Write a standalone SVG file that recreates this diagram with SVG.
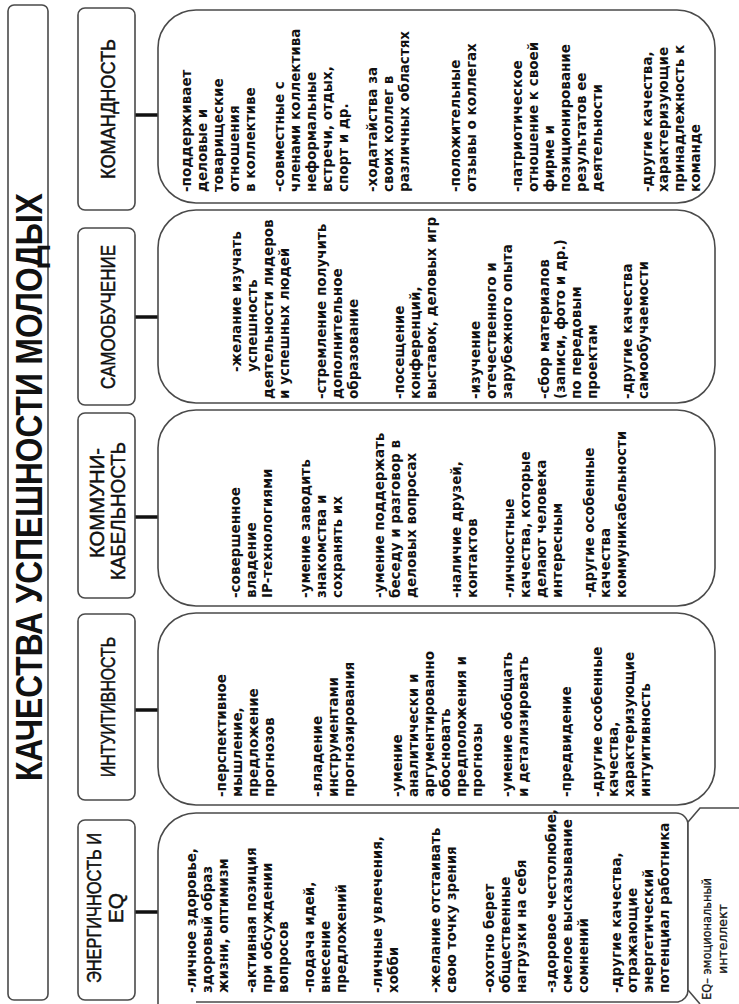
<svg xmlns="http://www.w3.org/2000/svg" width="739" height="1004" viewBox="0 0 739 1004">
<defs>
<style>
.box{fill:#fff;stroke:#4a4a4a;stroke-width:1.6}
.conn{stroke:#111;stroke-width:3.5;fill:none}
.title{font-family:"Liberation Sans",Arial,sans-serif;font-size:37px;font-weight:bold;fill:#111;text-anchor:middle}
.cat{font-family:"Liberation Sans",Arial,sans-serif;font-size:21px;fill:#111;stroke:#111;stroke-width:0.5;text-anchor:middle}
.item{font-family:"DejaVu Sans",Verdana,sans-serif;font-size:13.5px;font-weight:bold;fill:#111}
.note{font-family:"DejaVu Sans",Verdana,sans-serif;font-size:12.5px;fill:#111;stroke:#111;stroke-width:0.3;text-anchor:middle}
</style>
</defs>
<rect width="739" height="1004" fill="#fff"/>

<g id="title">
<rect class="box" x="8" y="5" width="40" height="995" rx="6"/>
<text class="title" transform="translate(42,487) rotate(-90)" textLength="588" lengthAdjust="spacingAndGlyphs">КАЧЕСТВА УСПЕШНОСТИ МОЛОДЫХ</text>
</g>

<g id="connectors">
<line class="conn" x1="135" y1="115" x2="158" y2="115"/>
<line class="conn" x1="135" y1="317" x2="158" y2="317"/>
<line class="conn" x1="135" y1="517" x2="158" y2="517"/>
<line class="conn" x1="135" y1="710" x2="158" y2="710"/>
<line class="conn" x1="135" y1="912" x2="158" y2="912"/>
</g>

<g id="cat-komandnost">
<rect class="box" x="78" y="8" width="57" height="202" rx="7"/>
<text class="cat" transform="translate(115,109) rotate(-90)" textLength="140" lengthAdjust="spacingAndGlyphs">КОМАНДНОСТЬ</text>
</g>
<g id="cat-samoobuchenie">
<rect class="box" x="78" y="228" width="57" height="177" rx="7"/>
<text class="cat" transform="translate(115,317) rotate(-90)" textLength="144" lengthAdjust="spacingAndGlyphs">САМООБУЧЕНИЕ</text>
</g>
<g id="cat-kommunikabelnost">
<rect class="box" x="78" y="413" width="57" height="185" rx="7"/>
<text class="cat" transform="translate(104,503) rotate(-90)" textLength="110" lengthAdjust="spacingAndGlyphs">КОММУНИ-</text>
<text class="cat" transform="translate(125,511) rotate(-90)" textLength="138" lengthAdjust="spacingAndGlyphs">КАБЕЛЬНОСТЬ</text>
</g>
<g id="cat-intuitivnost">
<rect class="box" x="78" y="614" width="57" height="186" rx="7"/>
<text class="cat" transform="translate(115,707) rotate(-90)" textLength="140" lengthAdjust="spacingAndGlyphs">ИНТУИТИВНОСТЬ</text>
</g>
<g id="cat-energichnost">
<rect class="box" x="78" y="820" width="57" height="180" rx="7"/>
<text class="cat" transform="translate(101,908) rotate(-90)" textLength="150" lengthAdjust="spacingAndGlyphs">ЭНЕРГИЧНОСТЬ И</text>
<text class="cat" transform="translate(123,908) rotate(-90)">EQ</text>
</g>

<g id="det-komandnost">
<rect class="box" x="158" y="10" width="557" height="193" rx="38"/>
<text class="item" transform="translate(191,192) rotate(-90)">
<tspan x="0" y="0">-поддерживает</tspan><tspan x="0" y="16">деловые и</tspan><tspan x="0" y="32">товарищеские</tspan><tspan x="0" y="48">отношения</tspan><tspan x="0" y="64">в коллективе</tspan>
<tspan x="0" y="93">-совместные с</tspan><tspan x="0" y="109">членами коллектива</tspan><tspan x="0" y="125">неформальные</tspan><tspan x="0" y="141">встречи, отдых,</tspan><tspan x="0" y="157">спорт и др.</tspan>
<tspan x="0" y="186">-ходатайства за</tspan><tspan x="0" y="202">своих коллег в</tspan><tspan x="0" y="218">различных областях</tspan>
<tspan x="0" y="269">-положительные</tspan><tspan x="0" y="285">отзывы о коллегах</tspan>
<tspan x="0" y="331">-патриотическое</tspan><tspan x="0" y="347">отношение к своей</tspan><tspan x="0" y="363">фирме и</tspan><tspan x="0" y="379">позиционирование</tspan><tspan x="0" y="395">результатов ее</tspan><tspan x="0" y="411">деятельности</tspan>
<tspan x="0" y="461">-другие качества,</tspan><tspan x="0" y="477">характеризующие</tspan><tspan x="0" y="493">принадлежность к</tspan><tspan x="0" y="509">команде</tspan>
</text>
</g>

<g id="det-samoobuchenie">
<rect class="box" x="158" y="210" width="557" height="193" rx="38"/>
<text class="item" transform="translate(241,399) rotate(-90)">
<tspan x="27" y="0">-желание изучать</tspan><tspan x="27" y="16">успешность</tspan><tspan x="0" y="32">деятельности лидеров</tspan><tspan x="0" y="48">и успешных людей</tspan>
<tspan x="0" y="85">-стремление получить</tspan><tspan x="0" y="101">дополнительное</tspan><tspan x="0" y="117">образование</tspan>
<tspan x="0" y="163">-посещение</tspan><tspan x="0" y="179">конференций,</tspan><tspan x="0" y="195">выставок, деловых игр</tspan>
<tspan x="0" y="239">-изучение</tspan><tspan x="0" y="255">отечественного и</tspan><tspan x="0" y="271">зарубежного опыта</tspan>
<tspan x="0" y="308">-сбор материалов</tspan><tspan x="0" y="324">(записи, фото и др.)</tspan><tspan x="0" y="340">по передовым</tspan><tspan x="0" y="356">проектам</tspan>
<tspan x="0" y="391">-другие качества</tspan><tspan x="0" y="407">самообучаемости</tspan>
</text>
</g>

<g id="det-kommunikabelnost">
<rect class="box" x="158" y="410" width="557" height="196" rx="38"/>
<text class="item" transform="translate(240,598) rotate(-90)">
<tspan x="0" y="0">-совершенное</tspan><tspan x="0" y="16">владение</tspan><tspan x="0" y="32">IP-технологиями</tspan>
<tspan x="0" y="70">-умение заводить</tspan><tspan x="0" y="86">знакомства и</tspan><tspan x="0" y="102">сохранять их</tspan>
<tspan x="0" y="144">-умение поддержать</tspan><tspan x="0" y="160">беседу и разговор в</tspan><tspan x="0" y="176">деловых вопросах</tspan>
<tspan x="0" y="221">-наличие друзей,</tspan><tspan x="0" y="237">контактов</tspan>
<tspan x="0" y="274">-личностные</tspan><tspan x="0" y="290">качества, которые</tspan><tspan x="0" y="306">делают человека</tspan><tspan x="0" y="322">интересным</tspan>
<tspan x="0" y="354">-другие особенные</tspan><tspan x="0" y="370">качества</tspan><tspan x="0" y="386">коммуникабельности</tspan>
</text>
</g>

<g id="det-intuitivnost">
<rect class="box" x="158" y="613" width="557" height="192" rx="38"/>
<text class="item" transform="translate(226,797) rotate(-90)">
<tspan x="0" y="0">-перспективное</tspan><tspan x="0" y="16">мышление,</tspan><tspan x="0" y="32">предложение</tspan><tspan x="0" y="48">прогнозов</tspan>
<tspan x="0" y="96">-владение</tspan><tspan x="0" y="112">инструментами</tspan><tspan x="0" y="128">прогнозирования</tspan>
<tspan x="0" y="176">-умение</tspan><tspan x="0" y="192">аналитически и</tspan><tspan x="0" y="208">аргументированно</tspan><tspan x="0" y="224">обосновать</tspan><tspan x="0" y="240">предположения и</tspan><tspan x="0" y="256">прогнозы</tspan>
<tspan x="0" y="286">-умение обобщать</tspan><tspan x="0" y="302">и детализировать</tspan>
<tspan x="0" y="345">-предвидение</tspan>
<tspan x="0" y="376">-другие особенные</tspan><tspan x="0" y="392">качества,</tspan><tspan x="0" y="408">характеризующие</tspan><tspan x="0" y="424">интуитивность</tspan>
</text>
</g>

<g id="det-energichnost">
<path class="box" d="M158,1010 V851 A38,38 0 0 1 196,813 H676 A12,12 0 0 1 688,825 V990 A12,12 0 0 1 678,1002 H196"/>
<text class="item" transform="translate(196,993) rotate(-90)">
<tspan x="0" y="0">-личное здоровье,</tspan><tspan x="0" y="16">здоровый образ</tspan><tspan x="0" y="32">жизни, оптимизм</tspan>
<tspan x="0" y="60">-активная позиция</tspan><tspan x="0" y="76">при обсуждении</tspan><tspan x="0" y="92">вопросов</tspan>
<tspan x="0" y="118">-подача идей,</tspan><tspan x="0" y="134">внесение</tspan><tspan x="0" y="150">предложений</tspan>
<tspan x="0" y="186">-личные увлечения,</tspan><tspan x="0" y="202">хобби</tspan>
<tspan x="0" y="244">-желание отстаивать</tspan><tspan x="0" y="260">свою точку зрения</tspan>
<tspan x="0" y="298">-охотно берет</tspan><tspan x="0" y="314">общественные</tspan><tspan x="0" y="330">нагрузки на себя</tspan>
<tspan x="0" y="360">-здоровое честолюбие,</tspan><tspan x="0" y="376">смелое высказывание</tspan><tspan x="0" y="392">сомнений</tspan>
<tspan x="0" y="425">-другие качества,</tspan><tspan x="0" y="441">отражающие</tspan><tspan x="0" y="457">энергетический</tspan><tspan x="0" y="473">потенциал работника</tspan>
</text>
</g>

<g id="note-eq">
<path class="box" fill="none" d="M745,808 H700 L688,822 V990 L700,1004"/>
<text class="note" transform="translate(711,939) rotate(-90)" textLength="122" lengthAdjust="spacingAndGlyphs">EQ– эмоциональный</text>
<text class="note" transform="translate(727,939) rotate(-90)">интеллект</text>
</g>
</svg>
